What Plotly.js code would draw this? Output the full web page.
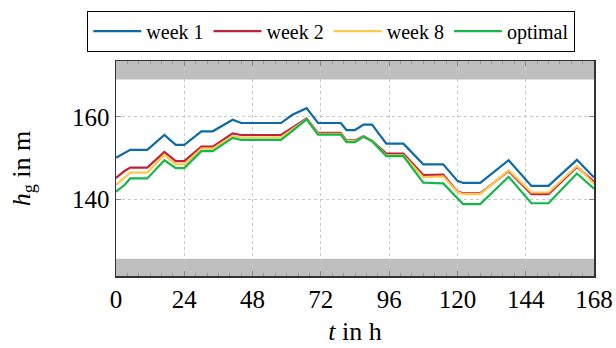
<!DOCTYPE html>
<html>
<head>
<meta charset="utf-8">
<script src="https://cdn.plot.ly/plotly-3.0.1.min.js"></script>
<style>html,body{margin:0;padding:0;background:#fff;}#chart{width:616px;height:348px;}</style>
</head>
<body>
<div id="chart"></div>
<script>
// time breakpoints in hours
const hours = [0, 3, 5, 11, 17, 21, 24, 30, 34, 41, 44, 58, 62, 67, 71, 79, 81, 84, 87, 90, 95, 101, 108, 115, 120, 122, 128, 138, 146, 152, 162, 168];
// head h_g in m
const week1 = [150.1, 151.2, 152.0, 152.0, 155.6, 153.2, 153.2, 156.5, 156.5, 159.3, 158.5, 158.5, 160.5, 162.1, 158.5, 158.5, 156.8, 156.8, 158.1, 158.1, 153.5, 153.5, 148.5, 148.5, 144.5, 144.0, 144.0, 149.5, 143.3, 143.3, 149.6, 145.3];
const week2 = [145.2, 146.9, 147.7, 147.7, 151.5, 149.3, 149.3, 152.8, 152.8, 156.0, 155.6, 155.6, 157.4, 159.6, 156.1, 156.1, 154.3, 154.3, 155.3, 154.2, 151.1, 151.1, 145.9, 146.0, 141.9, 141.5, 141.5, 146.9, 141.3, 141.3, 147.9, 144.3];
const week8 = [143.5, 145.3, 146.5, 146.5, 150.8, 148.5, 148.5, 152.3, 152.3, 155.3, 155.0, 155.0, 157.0, 159.4, 155.9, 155.9, 154.1, 154.1, 155.2, 154.1, 150.7, 150.7, 145.4, 145.6, 141.8, 141.3, 141.3, 147.1, 141.7, 141.7, 148.1, 143.8];
const optimal = [141.9, 143.5, 145.1, 145.1, 149.5, 147.6, 147.6, 151.7, 151.7, 154.9, 154.4, 154.4, 156.6, 159.4, 155.7, 155.7, 153.9, 153.9, 155.2, 154.1, 150.5, 150.5, 144.1, 143.9, 140.3, 138.9, 138.9, 145.5, 139.1, 139.1, 146.3, 142.6];
const seriesNames = ['week 1', 'week 2', 'week 8', 'optimal'];
const xTicks = [0, 24, 48, 72, 96, 120, 144, 168];
const yTicks = [140, 160];
// admissible head limits
const hMax = 169;
const hMin = 125.7;

const colors = ['#0d6aa5', '#c21f3a', '#fdc94c', '#12b84a'];
const yRange = [121.5, 173.5];
const series = [week1, week2, week8, optimal];
const traces = series.map((s, i) => ({
  x: hours, y: s, type: 'scatter', mode: 'lines', name: seriesNames[i],
  line: {color: colors[i], width: 2.2}
}));

const font = 'Liberation Serif, serif';
const layout = {
  width: 616, height: 348,
  margin: {l: 116, r: 21.5, t: 59.5, b: 72.3},
  paper_bgcolor: '#fff', plot_bgcolor: '#fff',
  font: {family: font, color: '#000', size: 25},
  showlegend: true,
  legend: {
    orientation: 'h', x: -0.06, xanchor: 'left', y: 1.229, yanchor: 'top',
    bordercolor: '#000', borderwidth: 1, font: {family: font, size: 20, color: '#000'},
    itemwidth: 48, tracegroupgap: 0, bgcolor: '#fff'
  },
  xaxis: {
    range: [0, 168], tickvals: xTicks, ticktext: xTicks.map(String),
    showline: true, linecolor: '#333', linewidth: 1.5, mirror: 'allticks',
    ticks: 'inside', ticklen: 5, tickcolor: '#888',
    showgrid: true, gridcolor: '#c8c8c8', griddash: 'dot', gridwidth: 1,
    zeroline: false, tickfont: {family: font, size: 25, color: '#000'},
    minor: {dtick: 4, tick0: 0, ticks: 'inside', ticklen: 3, tickcolor: '#999', showgrid: false},
    title: {text: '<i>t</i> in h', font: {family: font, size: 26, color: '#000'}, standoff: 10}
  },
  yaxis: {
    range: yRange, tickvals: yTicks, ticktext: yTicks.map(String),
    showline: true, linecolor: '#333', linewidth: 1.5, mirror: 'allticks',
    ticks: 'inside', ticklen: 5, tickcolor: '#888',
    showgrid: true, gridcolor: '#c8c8c8', griddash: 'dot', gridwidth: 1,
    zeroline: false, tickfont: {family: font, size: 25, color: '#000'},
    title: {text: '<i>h</i><sub>g</sub> in m', font: {family: font, size: 26, color: '#000'}, standoff: 34}
  },
  shapes: [
    {type: 'rect', xref: 'paper', yref: 'y', x0: 0, x1: 1, y0: hMax, y1: yRange[1],
     fillcolor: '#bfbfbf', line: {width: 0}, layer: 'between'},
    {type: 'rect', xref: 'paper', yref: 'y', x0: 0, x1: 1, y0: yRange[0], y1: hMin,
     fillcolor: '#bfbfbf', line: {width: 0}, layer: 'between'}
  ]
};
Plotly.newPlot('chart', traces, layout, {staticPlot: true, displayModeBar: false});
</script>
</body>
</html>
